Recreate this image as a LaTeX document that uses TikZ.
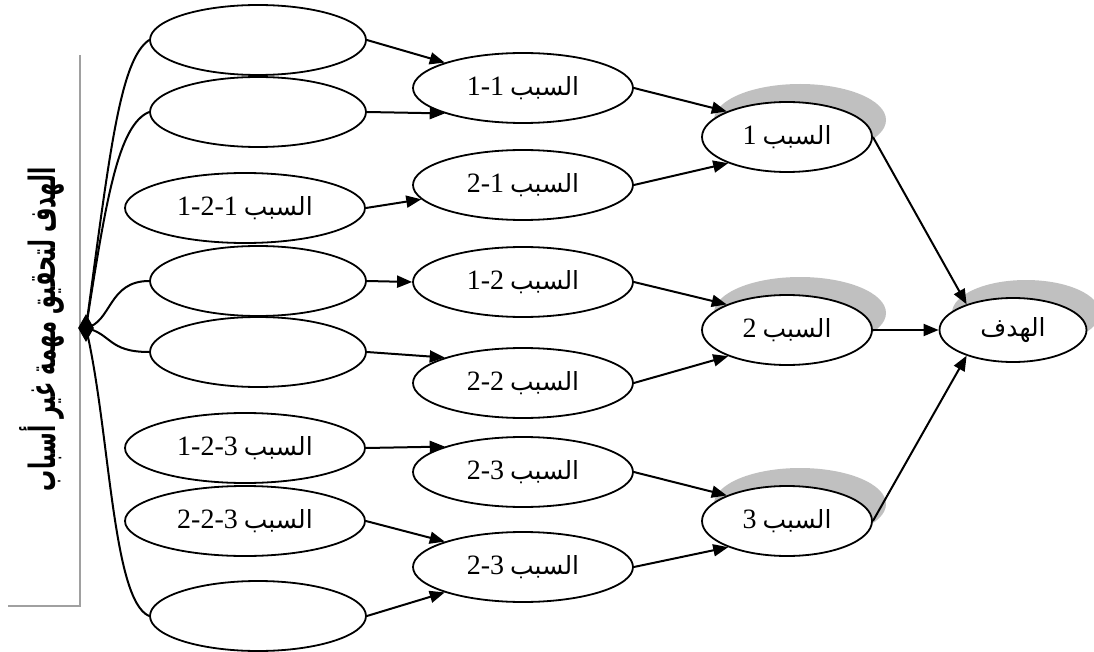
\documentclass[tikz,border=0pt]{standalone}
\usepackage{fontspec}
\setmainfont{Liberation Serif}
\newfontfamily\arabicfont[Script=Arabic]{DejaVu Sans}
\TeXXeTstate=1
\usetikzlibrary{arrows.meta,shapes.geometric,backgrounds}
\definecolor{shadowc}{HTML}{C0C0C0}
\definecolor{framec}{HTML}{A0A0A0}
\newcommand{\lab}[1]{{\fontsize{28}{32}\selectfont #1}\hspace{6pt}{\arabicfont\fontsize{25}{32}\selectfont\beginR السبب\endR}}
\newcommand{\aw}[1]{\beginR #1\endR}
\tikzset{
  ov/.style={ellipse, draw, line width=1.8pt, inner sep=0pt, fill=white, minimum width=216pt, minimum height=70pt},
  ovl/.style={ov, minimum width=240pt},
  ovm/.style={ov, minimum width=220pt},
  ovc/.style={ov, minimum width=170pt},
  arr/.style={line width=2pt, -{Triangle[length=15pt,width=12pt]}},
  link/.style={line width=2pt},
  shade/.style={fill=shadowc},
}
\begin{document}
\begin{tikzpicture}[x=1pt,y=-1pt]
\useasboundingbox (0,0) rectangle (1094,652);
% left column
\node[ov]  (E1) at (258,40)  {};
\node[ov]  (E2) at (258,112) {};
\node[ovl] (E3) at (245,208) {\lab{1-2-1}};
\node[ov]  (E4) at (258,281) {};
\node[ov]  (E5) at (258,352) {};
\node[ovl] (E6) at (245,448) {\lab{1-2-3}};
\node[ovl] (E7) at (245,521) {\lab{2-2-3}};
\node[ov]  (E8) at (258,616) {};
% middle column
\node[ovm] (M1) at (523,88)  {\lab{1-1}};
\node[ovm] (M2) at (523,185) {\lab{2-1}};
\node[ovm] (M3) at (523,282) {\lab{1-2}};
\node[ovm] (M4) at (523,383) {\lab{2-2}};
\node[ovm] (M5) at (523,472) {\lab{2-3}};
\node[ovm] (M6) at (523,567) {\lab{2-3}};
% right column
\node[ovc] (C1) at (787,137) {\lab{1}};
\node[ovc] (C2) at (787,330) {\lab{2}};
\node[ovc] (C3) at (787,521) {\lab{3}};
\node[ov, minimum width=147pt, minimum height=64pt] (G) at (1013,330) {\arabicfont\fontsize{25}{32}\selectfont\beginR الهدف\endR};
% shadows
\begin{scope}[on background layer]
\foreach \n in {C1,C2,C3}{
  \fill[shade] ([shift={(13,-17)}]\n.center) ellipse [x radius=86, y radius=36];
}
\fill[shade] ([shift={(13,-17)}]G.center) ellipse [x radius=74, y radius=33];
\end{scope}
% frame and side label
\draw[framec, line width=2.6pt] (80,55) -- (80,606) -- (8,606);
\node[rotate=90, inner sep=0pt] (T) at (42,329) {\resizebox{324pt}{36pt}{\arabicfont\bfseries\beginL\aw{أسباب} \aw{غير} \aw{مهمة} \aw{لتحقيق} \aw{الهدف}\endL}};
% diamond
\node[diamond, fill=black, inner sep=0pt, minimum width=16pt, minimum height=28pt] (D) at (86,328) {};
% curved links
\draw[link] (D.center) .. controls (110,150) and (120,60) .. (E1.west);
\draw[link] (D.center) .. controls (106,200) and (118,125) .. (E2.west);
\draw[link] (D.center) .. controls (112,322) and (108,281) .. (E4.west);
\draw[link] (D.center) .. controls (112,334) and (108,352) .. (E5.west);
\draw[link] (D.center) .. controls (110,430) and (112,600) .. (E8.west);
% arrows left -> middle
\draw[arr] (E1.east) -- (M1.162);
\draw[arr] (E2.east) -- (M1.198);
\draw[arr] (E3.east) -- (M2.188);
\draw[arr] (E4.east) -- (M3.west);
\draw[arr] (E5.east) -- (M4.162);
\draw[arr] (E6.east) -- (M5.162);
\draw[arr] (E7.east) -- (M6.162);
\draw[arr] (E8.east) -- (M6.198);
% middle -> right
\draw[arr] (M1.east) -- (C1.157);
\draw[arr] (M2.east) -- (C1.204);
\draw[arr] (M3.east) -- (C2.157);
\draw[arr] (M4.east) -- (C2.204);
\draw[arr] (M5.east) -- (C3.157);
\draw[arr] (M6.east) -- (C3.204);
% right -> goal
\draw[arr] (C1.east) -- (G.151);
\draw[arr] (C2.east) -- (G.west);
\draw[arr] (C3.east) -- (G.209);
\end{tikzpicture}
\end{document}
